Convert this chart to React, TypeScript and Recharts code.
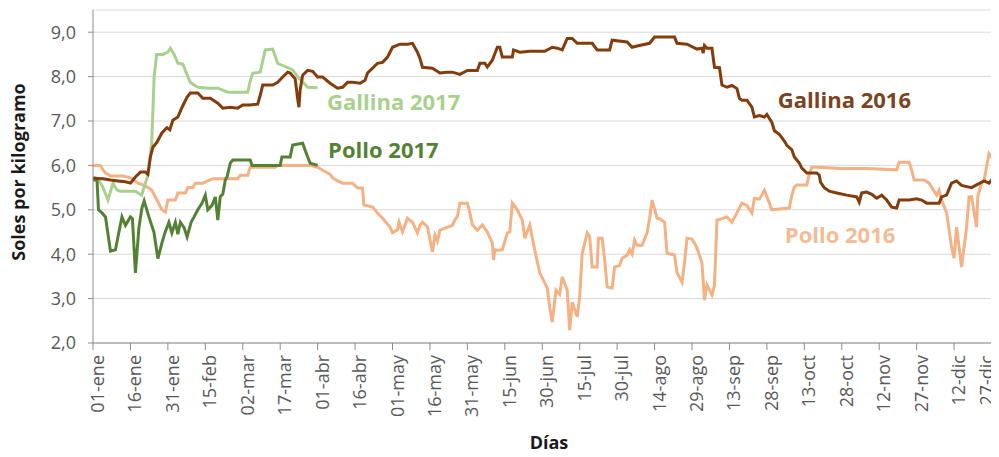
import React from 'react';
import { LineChart, Line, XAxis, YAxis, CartesianGrid, ReferenceDot } from 'recharts';

// day of year (0 = 01-ene) for each tick, and its label
const tickDays = [0, 15, 30, 45, 60, 75, 90, 105, 120, 135, 150, 165, 180, 195, 210, 225, 240, 255, 270, 285, 300, 315, 330, 345, 360];
const tickLabels = [
  '01-ene', '16-ene', '31-ene', '15-feb', '02-mar', '17-mar', '01-abr', '16-abr', '01-may',
  '16-may', '31-may', '15-jun', '30-jun', '15-jul', '30-jul', '14-ago', '29-ago', '13-sep',
  '28-sep', '13-oct', '28-oct', '12-nov', '27-nov', '12-dic', '27-dic',
];
const yTicks = [2, 3, 4, 5, 6, 7, 8, 9];

// [day, soles/kg]
const gallina2016: [number, number][] = [
  [0, 5.71], [4, 5.7], [7, 5.67], [10, 5.65], [13, 5.63], [15, 5.6], [17, 5.74], [19, 5.85], [21, 5.85],
  [22, 5.8], [23, 6.19], [24, 6.41], [25.6, 6.52], [27.6, 6.73], [29.6, 6.85], [30.8, 6.8], [32, 7.02],
  [34, 7.09], [35.7, 7.31], [37.7, 7.54], [39, 7.63], [42, 7.63], [44, 7.51], [47, 7.51], [50, 7.4],
  [52, 7.29], [55, 7.31], [58, 7.29], [60, 7.36], [63, 7.36], [66, 7.38], [67, 7.58], [68, 7.81],
  [72, 7.81], [74, 7.87], [76, 7.99], [78, 8.1], [79, 8.08], [81, 7.95], [82, 7.5], [82.5, 7.31],
  [83, 7.7], [84, 8.03], [86, 8.14], [88, 8.12], [90, 7.99], [92, 7.99], [95, 7.85], [98, 7.74],
  [100, 7.76], [102, 7.87], [104, 7.87], [107, 7.85], [109, 7.92], [110, 8.08], [112, 8.19], [114, 8.3],
  [116, 8.32], [118, 8.44], [120, 8.66], [123, 8.73], [126, 8.73], [128, 8.75], [130, 8.55], [131, 8.41],
  [132, 8.21], [136, 8.19], [139, 8.08], [142, 8.1], [144, 8.1], [147, 8.05], [150, 8.14], [154, 8.14],
  [155, 8.3], [157, 8.3], [158, 8.22], [160, 8.37], [162, 8.66], [163, 8.66], [164, 8.44], [168, 8.44],
  [168.5, 8.6], [171, 8.55], [175, 8.57], [181, 8.57], [184, 8.66], [186, 8.64], [188, 8.6], [190, 8.86],
  [192, 8.86], [194, 8.75], [200, 8.75], [202, 8.6], [207, 8.6], [208, 8.82], [214, 8.78], [216, 8.66],
  [218, 8.69], [223, 8.75], [225, 8.89], [233, 8.89], [234, 8.75], [238, 8.73], [242, 8.62], [244, 8.64],
  [244.5, 8.53], [245, 8.7], [246, 8.64], [248, 8.64], [249, 8.21], [251, 8.2], [252, 7.81], [254, 7.76],
  [256, 7.8], [258, 7.73], [259, 7.51], [260, 7.47], [262, 7.47], [264, 7.31], [265, 7.09], [267, 7.12],
  [269, 7.09], [270, 7.15], [272, 6.97], [273, 6.78], [275, 6.7], [277, 6.55], [278, 6.45], [280, 6.35],
  [281, 6.19], [283, 6.05], [284, 5.94], [286, 5.83], [290, 5.83], [291, 5.78], [291.5, 5.62], [293, 5.5],
  [295, 5.42], [298, 5.38], [302, 5.33], [306, 5.29], [307, 5.17], [308, 5.38], [310, 5.4], [312, 5.35],
  [314, 5.26], [316, 5.33], [318, 5.22], [320, 5.06], [322, 5.04], [323, 5.22], [327, 5.22], [330, 5.25],
  [332, 5.22], [334, 5.15], [339, 5.15], [340, 5.29], [342, 5.33], [344, 5.6], [346, 5.65], [348, 5.55],
  [352, 5.5], [354, 5.56], [357, 5.65], [359, 5.6], [360, 5.67], [363, 5.6],
];

const pollo2016: [number, number][] = [
  [0, 6.0], [3, 6.0], [4, 5.9], [5, 5.83], [7, 5.76], [12, 5.76], [15, 5.72], [18, 5.6], [20, 5.56],
  [22, 5.5], [23.6, 5.44], [25.6, 5.22], [27.6, 5.0], [29, 4.95], [30, 5.22], [33, 5.22], [34, 5.38],
  [37, 5.38], [38, 5.5], [40, 5.5], [41, 5.6], [44, 5.6], [46, 5.65], [48, 5.7], [58, 5.7], [59, 5.78],
  [62, 5.78], [63, 5.96], [73, 5.96], [74, 6.0], [87, 6.0], [90, 5.96], [92, 5.89], [95, 5.8], [96, 5.72],
  [98, 5.65], [100, 5.6], [104, 5.6], [106, 5.49], [108, 5.49], [108.5, 5.11], [112, 5.06], [114, 4.93],
  [116, 4.81], [119, 4.61], [120, 4.48], [122, 4.55], [122.6, 4.72], [124, 4.5], [125, 4.65], [126, 4.81],
  [128, 4.72], [130, 4.48], [131, 4.65], [132, 4.72], [134, 4.62], [136, 4.05], [137, 4.43], [138, 4.3],
  [139, 4.54], [142, 4.61], [144, 4.65], [145, 4.77], [146, 4.85], [147, 5.15], [150, 5.15], [151, 4.93],
  [152, 4.66], [154, 4.54], [156, 4.66], [158, 4.5], [160, 4.25], [160.5, 3.87], [161, 4.1], [162, 4.09],
  [164, 4.1], [166, 4.48], [167, 4.5], [168, 5.15], [170, 5.0], [172, 4.77], [173, 4.36], [175, 4.66],
  [177, 4.09], [179, 3.58], [182, 3.24], [183, 2.8], [184, 2.47], [185.5, 3.19], [187, 3.1], [188, 3.49],
  [190, 3.19], [191, 2.29], [192, 2.92], [194, 2.59], [195, 3.04], [196, 4.02], [198, 4.48], [199, 4.4],
  [200, 3.71], [202, 3.71], [202.5, 4.36], [204, 4.36], [205, 3.87], [206, 3.26], [208, 3.24], [209, 3.71],
  [211, 3.75], [212, 3.91], [214, 3.98], [215, 4.1], [216, 4.0], [217, 4.32], [218, 4.2], [220, 4.2],
  [222, 4.48], [223, 4.81], [224, 5.22], [226, 4.81], [227, 4.8], [229, 4.72], [230, 4.02], [233, 3.98],
  [234, 3.58], [236, 3.37], [237, 3.8], [238, 4.36], [240, 4.34], [241, 4.25], [242, 4.14], [244, 3.8],
  [245, 2.97], [246, 3.31], [248, 3.08], [249, 3.3], [250, 4.77], [252, 4.8], [254, 4.84], [256, 4.72],
  [258, 4.93], [260, 5.15], [262, 5.1], [264, 4.93], [265, 5.26], [267, 5.24], [269, 5.44], [271, 5.15],
  [272, 5.0], [275, 5.02], [279, 5.04], [280, 5.33], [281, 5.51], [282, 5.56], [286, 5.56], [287, 5.8],
  [288, 5.96], [290, 5.96], [300, 5.93], [310, 5.93], [322, 5.9], [323, 6.07], [327, 6.07], [328, 5.9],
  [329, 5.67], [333, 5.67], [335, 5.6], [338, 5.33], [339, 5.44], [340, 5.22], [342, 4.93], [344, 4.16],
  [345, 3.91], [346, 4.61], [348, 3.71], [350, 4.6], [351, 5.29], [352, 5.3], [354, 4.61], [354.5, 5.3],
  [356, 5.6], [357, 5.65], [359, 6.27], [360, 6.2], [362, 5.89], [363, 5.75],
];

const gallina2017: [number, number][] = [
  [0, 5.74], [2, 5.7], [4, 5.5], [6, 5.22], [8, 5.6], [9.5, 5.45], [11, 5.42], [14, 5.42], [17, 5.42],
  [19.5, 5.33], [21, 5.6], [22, 5.78], [23.5, 6.5], [24.5, 8.0], [25.5, 8.5], [28, 8.5], [30, 8.55],
  [31, 8.64], [32.5, 8.5], [34, 8.3], [36, 8.28], [38, 8.0], [39, 7.87], [42, 7.76], [46, 7.74], [50, 7.74],
  [54, 7.65], [62, 7.65], [63, 7.9], [64, 8.08], [67, 8.1], [69, 8.6], [72, 8.62], [74, 8.3], [76, 8.25],
  [78, 8.2], [80, 8.15], [82, 8.0], [84, 7.88], [86, 7.76], [90, 7.75],
];

const pollo2017: [number, number][] = [
  [0, 5.67], [1.6, 5.67], [2.2, 5.0], [3.6, 4.93], [5, 4.84], [7, 4.07], [9, 4.1], [10, 4.39], [11.6, 4.84],
  [13, 4.65], [15, 4.84], [15.8, 4.8], [17, 3.58], [18.4, 4.6], [19.6, 5.04], [20.5, 5.2], [22.4, 4.84],
  [24.4, 4.5], [26, 3.9], [27.6, 4.25], [28.8, 4.48], [30.4, 4.72], [31.6, 4.48], [33, 4.72], [34, 4.45],
  [35, 4.72], [36.5, 4.6], [37.7, 4.39], [39.3, 4.72], [40.5, 4.84], [42, 5.0], [43.7, 5.15], [45, 5.33],
  [46, 5.0], [47.7, 5.1], [49, 5.29], [50, 4.77], [51, 5.3], [52, 5.35], [53, 5.67], [53.7, 5.74],
  [55, 6.05], [56, 6.12], [63, 6.12], [63.7, 6.0], [75, 6.0], [75.7, 6.19], [79, 6.19], [80, 6.46],
  [84, 6.5], [86, 6.19], [87, 6.05], [90, 6.0],
];

const FONT = '"Open Sans", sans-serif';
const C_GALLINA16 = '#843C0C';
const C_POLLO16 = '#F4B183';
const C_GALLINA17 = '#A9D18E';
const C_POLLO17 = '#548235';

const toRows = (pts: [number, number][]) => pts.map(([d, v]) => ({ d, v }));

// where each series name sits (start of text, baseline), in data units
const seriesLabels = [
  { name: 'Gallina 2017', d: 93.8, v: 7.24, color: C_GALLINA17 },
  { name: 'Pollo 2017', d: 94.2, v: 6.16, color: C_POLLO17 },
  { name: 'Gallina 2016', d: 274.4, v: 7.29, color: '#7B4320' },
  { name: 'Pollo 2016', d: 277.2, v: 4.25, color: '#F4BC94' },
];

const XTick = ({ x, y, payload }: any) => {
  const i = tickDays.indexOf(payload.value);
  // last label is pulled in so it stays inside the picture, like the original
  const shift = Math.min(11, 993 - x);
  return (
    <text
      transform={`translate(${x},${y + 3}) rotate(-90)`}
      textAnchor="end"
      dy={shift}
      fill="#595959"
      fontSize={18}
      fontFamily={FONT}
    >
      {tickLabels[i]}
    </text>
  );
};

const App = () => {
  return (
    <div style={{ margin: '-8px 0 0 -8px', width: 999, height: 457, background: '#fff' }}>
      <LineChart width={999} height={457} margin={{ top: 10, right: 0, bottom: 0, left: 0 }}>
        <CartesianGrid vertical={false} stroke="#d9d9d9" />
        <XAxis
          type="number"
          dataKey="d"
          domain={[0, 363]}
          ticks={tickDays}
          interval={0}
          height={114}
          tickSize={7}
          stroke="#8c8c8c"
          tick={<XTick />}
          label={() => (
            <text x={549} y={449} textAnchor="middle" fontSize={18} fontWeight={700} fontFamily={FONT} fill="#1a1a1a">
              Días
            </text>
          )}
        />
        <YAxis
          type="number"
          domain={[2, 9.5]}
          ticks={yTicks}
          interval={0}
          width={93}
          tickSize={5}
          tickMargin={12}
          stroke="#8c8c8c"
          tick={{ fill: '#595959', fontSize: 18, fontFamily: FONT }}
          tickFormatter={(v: number) => v.toFixed(1).replace('.', ',')}
          label={() => (
            <text
              transform="translate(25,172) rotate(-90)"
              textAnchor="middle"
              fontSize={18}
              fontWeight={700}
              fontFamily={FONT}
              fill="#1a1a1a"
            >
              Soles por kilogramo
            </text>
          )}
        />
        <Line data={toRows(pollo2016)} dataKey="v" type="linear" stroke={C_POLLO16} strokeWidth={3} dot={false} isAnimationActive={false} />
        <Line data={toRows(gallina2017)} dataKey="v" type="linear" stroke={C_GALLINA17} strokeWidth={3} dot={false} isAnimationActive={false} />
        <Line data={toRows(pollo2017)} dataKey="v" type="linear" stroke={C_POLLO17} strokeWidth={3} dot={false} isAnimationActive={false} />
        <Line data={toRows(gallina2016)} dataKey="v" type="linear" stroke={C_GALLINA16} strokeWidth={3} dot={false} isAnimationActive={false} />
        {seriesLabels.map((l) => (
          <ReferenceDot
            key={l.name}
            x={l.d}
            y={l.v}
            r={0}
            shape={(p: any) => (
              <text x={p.cx} y={p.cy} fill={l.color} fontSize={22} fontWeight={700} fontFamily={FONT}>
                {l.name}
              </text>
            )}
          />
        ))}
      </LineChart>
    </div>
  );
};

export default App;
